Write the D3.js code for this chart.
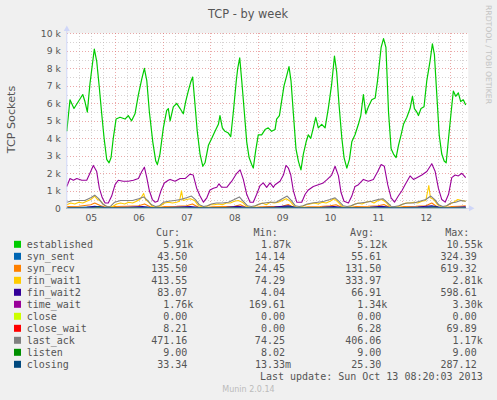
<!DOCTYPE html>
<html>
<head>
<meta charset="utf-8">
<script src="https://cdn.jsdelivr.net/npm/d3@7"></script>
<style>
  body { margin: 0; background: #F0F0F0; }
  svg { display: block; }
</style>
</head>
<body>
<div id="chart"></div>
<script>
// day labels (placed at noon of each day), hours since Oct 05 00:00
const dayLabels = ["05", "06", "07", "08", "09", "10", "11", "12"];
const yTicks = [0, 1, 2, 3, 4, 5, 6, 7, 8, 9, 10];   // thousands

// series: [hour, thousands of sockets]
const established = [
  [0, 4.4], [1.6, 6.2], [3.6, 5.7], [5.8, 6.1], [8.0, 6.5], [9.1, 6.1], [10.3, 5.5], [11.6, 7.1],
  [12.8, 8.2], [13.8, 9.1], [15.0, 8.4], [16.3, 6.9], [17.5, 5.4], [18.7, 4.0], [20.0, 2.8], [21.2, 2.6],
  [22.2, 2.9], [23.3, 4.0], [24.7, 5.1], [26.7, 5.2], [29.2, 5.1], [30.8, 5.3], [32.5, 5.0], [34.2, 5.4],
  [35.9, 6.5], [37.6, 7.4], [38.9, 8.0], [40.1, 7.3], [41.4, 5.5], [43.1, 3.8], [44.6, 2.7], [45.4, 2.5],
  [46.7, 3.1], [48.4, 4.6], [50.1, 5.6], [50.9, 5.7], [51.8, 5.0], [53.4, 5.8], [55.1, 6.0], [56.8, 5.7],
  [58.4, 5.4], [59.6, 6.1], [60.9, 6.7], [62.1, 7.2], [63.1, 7.5], [64.3, 5.9], [65.4, 4.4], [66.8, 3.1],
  [68.2, 2.4], [69.3, 2.6], [71.0, 3.6], [72.7, 4.0], [74.3, 4.4], [76.0, 4.8], [76.8, 5.3], [78.0, 4.6],
  [79.3, 4.4], [81.0, 4.3], [82.2, 4.1], [83.5, 5.5], [84.9, 7.2], [85.7, 8.0], [86.7, 8.6], [87.7, 7.3],
  [89.0, 5.5], [90.2, 3.8], [91.4, 2.9], [92.7, 2.5], [93.5, 2.3], [94.7, 3.3], [96.0, 4.2], [97.7, 4.2],
  [99.4, 4.5], [101.0, 4.6], [102.7, 4.4], [104.4, 4.5], [105.2, 5.1], [106.6, 5.3], [107.8, 6.2], [108.9, 7.0],
  [110.3, 7.6], [111.4, 8.1], [112.4, 7.3], [113.6, 5.4], [114.9, 3.4], [116.1, 2.7], [117.4, 2.2], [118.6, 3.1],
  [120.0, 3.8], [121.1, 4.2], [122.3, 4.0], [123.6, 4.6], [124.8, 5.2], [126.1, 4.6], [127.8, 4.8], [129.5, 4.6],
  [131.1, 5.7], [132.8, 7.1], [134.2, 8.7], [135.3, 7.8], [136.5, 5.9], [137.9, 4.0], [139.0, 2.9], [140.4, 2.3],
  [141.7, 2.8], [142.9, 3.8], [144.5, 4.2], [146.2, 4.8], [147.4, 5.3], [148.7, 6.5], [149.9, 5.4], [151.2, 5.8],
  [152.9, 6.2], [154.6, 6.3], [155.8, 7.3], [157.6, 9.2], [158.8, 9.7], [160.0, 9.2], [161.3, 5.5], [162.6, 3.4],
  [163.8, 3.1], [165.1, 2.9], [166.3, 3.6], [167.6, 4.2], [168.8, 4.8], [170.5, 5.2], [172.1, 5.7], [173.3, 6.4],
  [174.3, 5.7], [175.5, 5.5], [176.3, 5.3], [177.6, 5.7], [179.1, 5.8], [180.5, 7.3], [182.1, 8.4], [183.3, 9.4],
  [184.3, 8.8], [185.5, 6.5], [186.7, 4.2], [188.0, 3.1], [189.2, 2.7], [190.2, 2.6], [191.4, 4.0], [192.7, 5.5],
  [193.8, 6.7], [195.0, 6.4], [196.3, 6.6], [197.5, 6.1], [198.8, 6.2], [200.0, 5.9]
];
const synSent = [
  [0, 0.04], [12, 0.07], [20, 0.02], [36, 0.06], [44, 0.02], [60, 0.06], [68, 0.02], [84, 0.05], [92, 0.02],
  [110, 0.08], [116, 0.02], [133, 0.06], [140, 0.02], [158, 0.07], [164, 0.02], [182, 0.09], [189, 0.02], [200, 0.04]
];
const synRecv = [
  [0, 0.1], [6, 0.12], [12, 0.2], [14, 0.3], [17, 0.15], [20, 0.04], [24, 0.1], [30, 0.12], [36, 0.15], [39, 0.25],
  [42, 0.08], [45, 0.03], [49, 0.1], [55, 0.12], [60, 0.15], [63, 0.25], [66, 0.06], [69, 0.03], [73, 0.08],
  [79, 0.1], [84, 0.12], [87, 0.2], [90, 0.05], [93, 0.03], [97, 0.08], [103, 0.1], [108, 0.12], [111, 0.22],
  [114, 0.05], [117, 0.03], [121, 0.08], [127, 0.1], [132, 0.14], [135, 0.2], [138, 0.05], [141, 0.03], [145, 0.1],
  [151, 0.12], [156, 0.15], [159, 0.22], [162, 0.05], [165, 0.03], [169, 0.1], [175, 0.12], [180, 0.15], [183, 0.3],
  [186, 0.06], [189, 0.03], [193, 0.1], [197, 0.12], [200, 0.14]
];
const finWait1 = [
  [0, 0.2], [2, 0.3], [4, 0.25], [6, 0.35], [8, 0.3], [10, 0.4], [12, 0.5], [14, 0.7], [15, 0.55], [17, 0.4],
  [19, 0.15], [21, 0.08], [23, 0.1], [25, 0.25], [27, 0.3], [29, 0.25], [31, 0.35], [33, 0.3], [35, 0.4], [37, 0.55],
  [38.5, 0.85], [39.5, 0.5], [41, 0.35], [43, 0.1], [45, 0.08], [47, 0.15], [49, 0.3], [51, 0.35], [53, 0.3],
  [55, 0.35], [56.5, 0.4], [57.5, 1.0], [58.3, 0.45], [60, 0.5], [62, 0.55], [64, 0.45], [66, 0.15], [68, 0.08],
  [70, 0.1], [72, 0.2], [74, 0.2], [76, 0.25], [78, 0.2], [80, 0.3], [82, 0.3], [84, 0.4], [86, 0.45], [88, 0.35],
  [90, 0.12], [92, 0.06], [94, 0.1], [96, 0.2], [98, 0.3], [100, 0.2], [102, 0.35], [104, 0.3], [106, 0.35],
  [108, 0.45], [110, 0.55], [112, 0.4], [114, 0.12], [116, 0.06], [118, 0.1], [120, 0.2], [122, 0.25], [124, 0.3],
  [126, 0.25], [128, 0.35], [130, 0.3], [132, 0.4], [134, 0.55], [136, 0.35], [138, 0.1], [140, 0.06], [142, 0.1],
  [144, 0.2], [146, 0.3], [148, 0.25], [150, 0.35], [152, 0.4], [154, 0.3], [156, 0.45], [158, 0.5], [160, 0.35],
  [162, 0.1], [164, 0.06], [166, 0.1], [168, 0.2], [170, 0.3], [172, 0.3], [174, 0.35], [176, 0.3], [178, 0.4],
  [180, 0.45], [181.5, 1.3], [182.3, 0.6], [184, 0.5], [186, 0.2], [188, 0.08], [190, 0.1], [192, 0.25],
  [194, 0.35], [196, 0.5], [198, 0.45], [200, 0.4]
];
const finWait2 = [
  [0, 0.05], [10, 0.06], [14, 0.12], [20, 0.03], [30, 0.06], [38, 0.1], [44, 0.02], [56, 0.07], [62, 0.1],
  [68, 0.03], [80, 0.06], [86, 0.12], [92, 0.02], [104, 0.07], [111, 0.14], [116, 0.02], [128, 0.06], [134, 0.1],
  [140, 0.03], [152, 0.06], [158, 0.12], [164, 0.02], [176, 0.07], [183, 0.15], [189, 0.02], [200, 0.08]
];
const timeWait = [
  [0, 1.25], [1.6, 1.7], [3.3, 1.6], [5.0, 1.7], [7.5, 1.6], [10.0, 1.6], [11.6, 2.0], [13.3, 2.45], [15.0, 2.1],
  [16.3, 1.15], [17.8, 0.6], [19.2, 0.3], [20.8, 0.3], [22.5, 0.7], [24.2, 1.35], [25.8, 1.6], [28.3, 1.55],
  [30.8, 1.55], [33.4, 1.6], [35.9, 1.7], [37.6, 2.1], [38.9, 2.35], [40.1, 1.75], [41.4, 1.0], [42.9, 0.5],
  [44.2, 0.35], [45.6, 0.4], [47.2, 1.0], [48.9, 1.45], [50.9, 1.6], [51.8, 1.65], [54.3, 1.55], [56.8, 1.7],
  [59.3, 1.7], [61.8, 1.95], [63.4, 1.9], [65.1, 1.15], [66.8, 0.7], [68.5, 0.35], [70.2, 0.6], [71.8, 1.05],
  [73.5, 1.15], [75.2, 1.2], [76.3, 1.4], [77.7, 1.2], [80.2, 1.2], [82.7, 1.55], [85.2, 2.0], [86.9, 2.2],
  [88.5, 1.65], [90.2, 0.8], [91.9, 0.35], [93.5, 0.35], [95.2, 0.8], [96.9, 1.3], [98.5, 1.45], [100.2, 1.2],
  [101.9, 1.45], [103.6, 1.2], [104.4, 1.35], [106.9, 1.55], [108.6, 1.9], [109.9, 2.45], [111.1, 2.3],
  [112.3, 1.9], [113.6, 1.0], [115.3, 0.35], [117.8, 0.35], [119.5, 0.8], [121.1, 1.05], [123.6, 1.25],
  [126.1, 1.35], [128.6, 1.45], [130.6, 1.65], [132.8, 1.9], [134.5, 2.4], [136.2, 1.85], [137.5, 0.9],
  [139.0, 0.4], [141.2, 0.3], [142.9, 0.7], [144.5, 1.25], [146.2, 1.35], [148.7, 1.65], [151.2, 1.55],
  [153.7, 1.65], [155.9, 2.1], [157.6, 2.5], [159.2, 2.4], [160.9, 1.35], [162.6, 0.6], [164.3, 0.35],
  [166.2, 0.7], [168.0, 1.0], [169.6, 1.35], [172.1, 1.85], [173.8, 1.65], [175.5, 1.75], [178.0, 1.9],
  [180.5, 2.1], [183.0, 2.55], [184.7, 2.1], [186.3, 1.15], [188.0, 0.5], [189.7, 0.35], [191.4, 0.8],
  [193.0, 1.75], [194.7, 1.9], [196.3, 1.85], [198.1, 2.0], [200.0, 1.75]
];
const close = [[0, 0], [200, 0]];
const closeWait = [
  [0, 0.005], [14, 0.01], [20, 0], [38, 0.012], [44, 0], [62, 0.01], [68, 0], [86, 0.01], [92, 0],
  [110, 0.015], [116, 0], [134, 0.01], [140, 0], [158, 0.01], [164, 0], [183, 0.02], [189, 0], [200, 0.008]
];
const lastAck = [
  [0, 0.35], [3, 0.45], [6, 0.45], [9, 0.45], [12, 0.6], [14, 0.75], [16, 0.55], [18, 0.25], [20, 0.1], [22, 0.12],
  [24, 0.35], [27, 0.45], [30, 0.45], [33, 0.45], [36, 0.55], [38.5, 0.65], [40.5, 0.45], [42.5, 0.2], [44.5, 0.1],
  [46.5, 0.15], [48.5, 0.35], [51, 0.4], [54, 0.45], [57, 0.5], [60, 0.6], [62.5, 0.7], [64.5, 0.5], [66.5, 0.2],
  [68.5, 0.1], [70.5, 0.15], [72.5, 0.25], [75, 0.3], [78, 0.3], [81, 0.35], [84, 0.5], [86.5, 0.65], [88.5, 0.4],
  [90.5, 0.15], [92.5, 0.1], [94.5, 0.15], [96.5, 0.25], [99, 0.3], [102, 0.35], [105, 0.35], [108, 0.55],
  [110.5, 0.7], [112.5, 0.45], [114.5, 0.15], [116.5, 0.1], [118.5, 0.15], [120.5, 0.25], [123, 0.3], [126, 0.35],
  [129, 0.4], [132, 0.5], [134.5, 0.6], [136.5, 0.4], [138.5, 0.15], [140.5, 0.1], [142.5, 0.15], [144.5, 0.25],
  [147, 0.3], [150, 0.35], [153, 0.4], [156, 0.5], [158.5, 0.55], [160.5, 0.35], [162.5, 0.12], [164.5, 0.1],
  [166.5, 0.15], [168.5, 0.25], [171, 0.3], [174, 0.3], [177, 0.4], [180, 0.5], [182.5, 0.7], [184.5, 0.5],
  [186.5, 0.2], [188.5, 0.1], [190.5, 0.15], [192.5, 0.3], [195, 0.35], [197.5, 0.45], [200, 0.4]
];
const listen = [[0, 0.009], [200, 0.009]];
const closing = [
  [0, 0.02], [12, 0.04], [16, 0.1], [20, 0.01], [36, 0.03], [40, 0.06], [44, 0.01], [60, 0.03], [64, 0.05],
  [68, 0.01], [84, 0.03], [88, 0.05], [92, 0.01], [108, 0.04], [112, 0.08], [116, 0.01], [132, 0.03], [136, 0.05],
  [140, 0.01], [156, 0.03], [160, 0.06], [164, 0.01], [180, 0.04], [184, 0.09], [189, 0.01], [200, 0.03]
];

// legend
const names = ["established", "syn_sent", "syn_recv", "fin_wait1", "fin_wait2", "time_wait",
               "close", "close_wait", "last_ack", "listen", "closing"];
const colors = ["#00CC00", "#0066B3", "#FF8000", "#FFCC00", "#330099", "#990099",
                "#CCFF00", "#FF0000", "#808080", "#008F00", "#00487D"];
const seriesData = [established, synSent, synRecv, finWait1, finWait2, timeWait,
                    close, closeWait, lastAck, listen, closing];
const curVals = ["5.91k", "43.50", "135.50", "413.55", "83.07", "1.76k", "0.00", "8.21", "471.16", "9.00", "33.34"];
const minVals = ["1.87k", "14.14", "24.45", "74.29", "4.04", "169.61", "0.00", "0.00", "74.25", "8.02", "13.33m"];
const avgVals = ["5.12k", "55.61", "131.50", "333.97", "66.91", "1.34k", "0.00", "6.28", "406.06", "9.00", "25.30"];
const maxVals = ["10.55k", "324.39", "619.32", "2.81k", "598.61", "3.30k", "0.00", "69.89", "1.17k", "9.00", "287.12"];

const W = 497, H = 400;
const plot = {left: 66.8, right: 468.3, top: 33.3, bottom: 208.3};

const svg = d3.select("#chart").append("svg")
    .attr("width", W)
    .attr("height", H)
    .style("font-family", "'DejaVu Sans', sans-serif");

svg.append("rect").attr("width", W).attr("height", H).attr("fill", "#F0F0F0");
svg.append("rect")
    .attr("x", plot.left).attr("y", plot.top)
    .attr("width", plot.right - plot.left).attr("height", plot.bottom - plot.top)
    .attr("fill", "#FFFFFF");

const x = d3.scaleLinear().domain([0, 201.3]).range([plot.left, plot.right]);
const y = d3.scaleLinear().domain([0, 10]).range([plot.bottom, plot.top]);

// grid
const grid = svg.append("g").attr("shape-rendering", "crispEdges");
d3.range(0, 10.01, 0.5).forEach(v => {
    const major = Math.abs(v - Math.round(v)) < 1e-6;
    grid.append("line")
        .attr("x1", plot.left).attr("x2", plot.right)
        .attr("y1", Math.round(y(v)) + 0.5).attr("y2", Math.round(y(v)) + 0.5)
        .attr("stroke", major ? "#de7070" : "#b0a8a8")
        .attr("stroke-opacity", major ? 0.6 : 0.5)
        .attr("stroke-dasharray", "1,2");
});
d3.range(6, 201, 6).forEach(h => {
    const major = h % 24 === 0;
    grid.append("line")
        .attr("x1", Math.round(x(h)) + 0.5).attr("x2", Math.round(x(h)) + 0.5)
        .attr("y1", plot.top).attr("y2", plot.bottom)
        .attr("stroke", major ? "#de7070" : "#b0a8a8")
        .attr("stroke-opacity", major ? 0.6 : 0.5)
        .attr("stroke-dasharray", "1,2");
});

// series lines, drawn in munin field order
const line = d3.line().x(d => x(d[0])).y(d => y(d[1]));
seriesData.forEach((s, i) => {
    svg.append("path")
        .datum(s)
        .attr("d", line)
        .attr("fill", "none")
        .attr("stroke", colors[i])
        .attr("stroke-width", i === 0 ? 1.2 : 1.1)
        .attr("stroke-linejoin", "round");
});

// axes
const axisColor = "#CFD6F8";
svg.append("line").attr("x1", plot.left).attr("x2", plot.left)
    .attr("y1", plot.bottom).attr("y2", 29).attr("stroke", axisColor);
svg.append("line").attr("x1", plot.left).attr("x2", 471)
    .attr("y1", plot.bottom).attr("y2", plot.bottom).attr("stroke", axisColor);
svg.append("path").attr("d", `M${plot.left - 3},31 L${plot.left},25.5 L${plot.left + 3},31 Z`).attr("fill", axisColor);
svg.append("path").attr("d", `M469,${plot.bottom - 3} L474.5,${plot.bottom} L469,${plot.bottom + 3} Z`).attr("fill", axisColor);

const yAxis = d3.axisLeft(y)
    .tickValues(yTicks)
    .tickSize(0)
    .tickPadding(6)
    .tickFormat(d => d === 0 ? "0" : d + " k");
svg.append("g")
    .attr("transform", `translate(${plot.left},0)`)
    .call(yAxis)
    .call(g => g.select(".domain").remove())
    .selectAll("text")
    .attr("fill", "#555")
    .style("font-size", "9.2px")
    .style("font-family", "'DejaVu Sans', sans-serif");

const xAxis = d3.axisBottom(x)
    .tickValues(dayLabels.map((d, i) => i * 24 + 12))
    .tickSize(0)
    .tickPadding(6)
    .tickFormat((d, i) => dayLabels[i]);
svg.append("g")
    .attr("transform", `translate(0,${plot.bottom})`)
    .call(xAxis)
    .call(g => g.select(".domain").remove())
    .selectAll("text")
    .attr("fill", "#555")
    .style("font-size", "9.2px")
    .style("font-family", "'DejaVu Sans', sans-serif");

// titles
svg.append("text").attr("x", 248).attr("y", 17.5).attr("text-anchor", "middle")
    .attr("fill", "#555").style("font-size", "11.4px").text("TCP - by week");
svg.append("text").attr("transform", "translate(15,119.5) rotate(-90)").attr("text-anchor", "middle")
    .attr("fill", "#555").style("font-size", "11.2px").text("TCP Sockets");
svg.append("text").attr("transform", "translate(485.5,5) rotate(90)")
    .attr("fill", "#c4c4c4").style("font-size", "7.7px").text("RRDTOOL / TOBI OETIKER");

// legend
const mono = "'DejaVu Sans Mono', monospace";
const leg = svg.append("g").style("font-family", mono).style("font-size", "10px").attr("fill", "#555");
const colEnds = [193.3, 291, 387.3, 482.7];
const colHeads = ["Cur:", "Min:", "Avg:", "Max:"];
colHeads.forEach((h, j) => {
    leg.append("text").attr("x", colEnds[j] - 13.3).attr("y", 235.8).attr("text-anchor", "end").text(h);
});
const cols = [curVals, minVals, avgVals, maxVals];
names.forEach((n, i) => {
    const cy = 244.3 + i * 12;
    leg.append("rect").attr("x", 14).attr("y", cy - 3.5).attr("width", 7).attr("height", 7).attr("fill", colors[i]);
    leg.append("text").attr("x", 26.7).attr("y", cy + 3.6).text(n);
    cols.forEach((c, j) => {
        const v = c[i];
        const suffix = /[a-z]$/.test(v);
        leg.append("text")
            .attr("x", colEnds[j] - (suffix ? 0 : 6.02))
            .attr("y", cy + 3.6)
            .attr("text-anchor", "end")
            .text(v);
    });
});
leg.append("text").attr("x", 482.7).attr("y", 380.3).attr("text-anchor", "end")
    .text("Last update: Sun Oct 13 08:20:03 2013");

svg.append("text").attr("x", 248.5).attr("y", 392).attr("text-anchor", "middle")
    .attr("fill", "#bbb").style("font-size", "8px").text("Munin 2.0.14");
</script>
</body>
</html>
